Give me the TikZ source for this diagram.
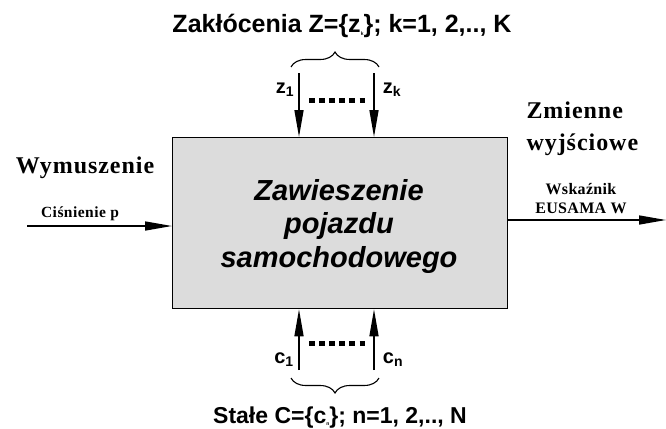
\documentclass[tikz,border=0pt]{standalone}
\usepackage{fontspec}
\setmainfont{Liberation Serif}
\setsansfont{Liberation Sans}
\usetikzlibrary{arrows.meta,decorations.pathreplacing}
\newcommand{\fsz}[2]{\fontsize{#1}{#2}\selectfont}
\begin{document}
\begin{tikzpicture}[x=1pt,y=-1pt,
  tip/.style={-{Triangle[length=27pt,width=9pt]}, line width=1.5pt},
  brc/.style={decorate, decoration={brace, amplitude=15pt}, line width=1.1pt},
  dotline/.style={line width=5pt, dash pattern=on 5.5pt off 4.6pt},
  sub/.style={font=\sffamily\bfseries\fsz{20}{24}, anchor=base},
  ttl/.style={font=\sffamily\bfseries\fsz{25}{28}, anchor=base},
  serifb/.style={font=\rmfamily\bfseries\addfontfeature{LetterSpace=4}\fsz{24}{32}, anchor=base, align=left}]
\useasboundingbox (0,0) rectangle (666,428);
\node[draw, line width=1.3pt, fill={rgb,255:red,220;green,220;blue,220}, minimum width=335pt, minimum height=171pt, inner sep=0pt, anchor=north west] (box) at (172,137) {};
\node[font=\sffamily\bfseries\itshape\fsz{29}{33.5}, align=center, anchor=base] (lbl) at (339,267) {Zawieszenie\\pojazdu\\samochodowego};
% top
\coordinate (z1s) at (299,73);
\coordinate (zks) at (374,73);
\draw[tip] (z1s) -- (z1s |- box.north);
\draw[tip] (zks) -- (zks |- box.north);
\node[sub] (z1) at (285,93) {z\textsubscript{1}};
\node[sub] (zk) at (392,93) {z\textsubscript{k}};
\coordinate (zd1) at (309,100);
\coordinate (zd2) at (366,100);
\draw[dotline] (zd1) -- (zd2);
\coordinate (zb1) at (291,67);
\coordinate (zb2) at (379,67);
\draw[brc] (zb1) -- (zb2);
\node[ttl] (ztitle) at (342,33) {Zakłócenia Z=\{z\raisebox{-0.2ex}{\fsz{5}{6}k}\}; k=1, 2,.., K};
% bottom
\coordinate (c1s) at (299,370);
\coordinate (cns) at (374,370);
\draw[tip] (c1s) -- (c1s |- box.south);
\draw[tip] (cns) -- (cns |- box.south);
\node[sub] (c1) at (284,363) {c\textsubscript{1}};
\node[sub] (cn) at (393,363) {c\textsubscript{n}};
\coordinate (cd1) at (309,343);
\coordinate (cd2) at (366,343);
\draw[dotline] (cd1) -- (cd2);
\coordinate (cb1) at (379,378);
\coordinate (cb2) at (291,378);
\draw[brc] (cb1) -- (cb2);
\node[ttl, font=\sffamily\bfseries\fsz{23}{28}] (ctitle) at (340,423) {Stałe C=\{c\raisebox{-0.2ex}{\fsz{5}{6}n}\}; n=1, 2,.., N};
% left
\node[serifb] (wym) at (85,173) {Wymuszenie};
\node[font=\rmfamily\bfseries\addfontfeature{LetterSpace=3}\fsz{15.5}{19}, anchor=base] (cis) at (80,217) {Ciśnienie p};
\coordinate (in) at (27,226);
\draw[tip] (in) -- (in -| box.west);
% right
\node[serifb, anchor=base west] (zm) at (523,150) {Zmienne\\wyjściowe};
\node[font=\rmfamily\bfseries\addfontfeature{LetterSpace=2}\fsz{16}{19}, align=center, anchor=base] (wsk) at (581,213) {Wskaźnik\\EUSAMA W};
\coordinate (out) at (666,220);
\draw[tip] (box.east |- out) -- (out);
\end{tikzpicture}
\end{document}
